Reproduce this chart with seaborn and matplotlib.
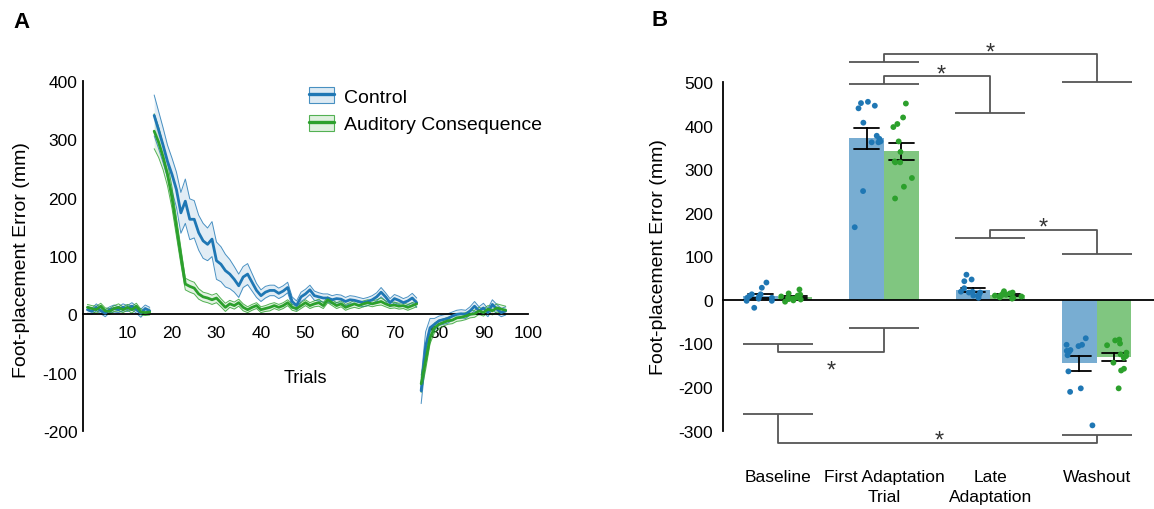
import numpy as np
import pandas as pd
import matplotlib
matplotlib.use('Agg')
import matplotlib.pyplot as plt
import seaborn as sns
from matplotlib.patches import Patch
from matplotlib.lines import Line2D
from matplotlib.legend_handler import HandlerTuple
from matplotlib.colors import to_rgba

sns.set_theme(style='white')
plt.rcParams['font.family'] = ['Liberation Sans', 'DejaVu Sans']
plt.rcParams['axes.unicode_minus'] = False
plt.rcParams['text.color'] = 'black'
plt.rcParams['axes.labelcolor'] = 'black'

groups = ['Control', 'Auditory Consequence']
pal = {'Control': '#1f77b4', 'Auditory Consequence': '#2ca02c'}

#%%
# Panel A: trial-by-trial mean and SE
base_trials = list(range(1, 16))
adapt_trials = list(range(16, 76))
wash_trials = list(range(76, 96))

ctrl_base = [8, 5, 12, 6, 2, 8, 10, 8, 12, 10, 14, 8, 2, 10, 6]
ctrl_base_se = [6, 5, 6, 5, 6, 5, 6, 5, 6, 5, 6, 6, 7, 6, 6]
audi_base = [12, 10, 8, 14, 6, 5, 10, 12, 8, 12, 8, 14, 4, 3, 4]
audi_base_se = [5, 5, 6, 5, 5, 5, 5, 6, 5, 5, 6, 5, 5, 5, 5]

ctrl_adapt = [341, 316, 290, 262, 240, 214, 174, 194, 163, 163,
              140, 126, 120, 129, 92, 86, 75, 69, 60, 49,
              64, 69, 55, 41, 32, 38, 41, 41, 36, 40,
              46, 22, 15, 30, 35, 42, 32, 30, 28, 28,
              25, 27, 26, 22, 25, 24, 22, 20, 22, 25,
              30, 38, 30, 20, 27, 24, 20, 23, 28, 20]
ctrl_adapt_se = [35, 32, 30, 28, 28, 30, 35, 38, 35, 32,
                 30, 30, 28, 30, 32, 30, 28, 25, 22, 20,
                 18, 18, 15, 12, 10, 10, 9, 9, 9, 9,
                 9, 8, 8, 8, 8, 8, 8, 7, 7, 7,
                 7, 7, 7, 7, 7, 7, 7, 7, 7, 7,
                 7, 8, 7, 7, 7, 7, 7, 7, 8, 8]
audi_adapt = [314, 295, 270, 240, 200, 150, 100, 52, 48, 45,
              35, 30, 28, 25, 28, 20, 12, 18, 15, 20,
              12, 8, 12, 15, 8, 10, 12, 15, 12, 15,
              20, 12, 10, 15, 20, 15, 18, 20, 15, 25,
              20, 15, 18, 12, 15, 18, 15, 18, 20, 18,
              20, 22, 18, 15, 16, 14, 15, 12, 15, 18]
audi_adapt_se = [30, 26, 22, 20, 18, 16, 14, 10, 10, 10,
                 9, 8, 8, 8, 8, 7, 7, 6, 6, 6,
                 6, 5, 5, 5, 5, 5, 6, 5, 5, 5,
                 5, 5, 5, 5, 5, 5, 5, 6, 5, 5,
                 5, 5, 5, 5, 5, 6, 5, 5, 5, 5,
                 5, 6, 5, 5, 5, 5, 5, 5, 5, 5]

ctrl_wash = [-131, -55, -23, -17, -11, -9, -7, -3, 0, 1,
             0, 6, 14, 6, 11, 3, 17, 9, 3, 6]
ctrl_wash_se = [22, 25, 16, 10, 8, 8, 8, 7, 7, 7,
                7, 7, 8, 7, 8, 7, 8, 8, 7, 7]
audi_wash = [-119, -80, -40, -23, -17, -14, -11, -10, -6, -5,
             -3, 0, 1, 6, 3, 9, 6, 11, 9, 7]
audi_wash_se = [15, 15, 10, 8, 7, 6, 6, 6, 6, 6,
                6, 6, 6, 6, 6, 6, 7, 7, 7, 7]

#%%
# Panel B: per-participant values for each condition
conditions = ['Baseline', 'First Adaptation\nTrial', 'Late\nAdaptation', 'Washout']
ctrl_pts = [
    [28, 40, -18, 13, -2, 5, 9, 13, 5, 3, -2, 8],
    [455, 446, 452, 440, 407, 370, 364, 362, 362, 377, 250, 167],
    [58, 47, 43, 27, 10, 19, 19, 17, 12, 17, 5, 10],
    [-88, -106, -103, -103, -117, -115, -119, -127, -164, -203, -211, -288],
]
audi_pts = [
    [24, 15, 12, 10, 8, 6, 5, 3, 2, 1, -1, -4],
    [451, 419, 404, 397, 364, 340, 318, 316, 316, 280, 260, 233],
    [20, 17, 15, 15, 12, 12, 10, 10, 8, 6, 5, 3],
    [-91, -93, -100, -104, -121, -133, -125, -144, -158, -162, -203, -129],
]
# significance brackets: (group 1, its line, group 2, its line, join level, star x, star y)
sig = [
    (1, 546, 3, 501, 565, 2.0, 582),
    (1, 496, 2, 429, 514, 1.54, 532),
    (2, 142, 3, 106, 161, 2.5, 180),
    (0, -102, 1, -65, -120, 0.5, -148),
    (0, -263, 3, -310, -328, 1.52, -308),
]

#%%
# Long tables
rows = []
for g, parts in zip(groups, [[(base_trials, ctrl_base, ctrl_base_se), (adapt_trials, ctrl_adapt, ctrl_adapt_se), (wash_trials, ctrl_wash, ctrl_wash_se)],
                             [(base_trials, audi_base, audi_base_se), (adapt_trials, audi_adapt, audi_adapt_se), (wash_trials, audi_wash, audi_wash_se)]]):
    for ph, (t, m, s) in enumerate(parts):
        rows.append(pd.DataFrame({'trial': t, 'mean': m, 'se': s, 'group': g, 'phase': ph}))
dfa = pd.concat(rows, ignore_index=True)

rows = []
for g, pts in zip(groups, [ctrl_pts, audi_pts]):
    for i, vals in enumerate(pts):
        rows.append(pd.DataFrame({'cond': i, 'value': vals, 'group': g}))
dfb = pd.concat(rows, ignore_index=True)

fig = plt.figure(figsize=(11.54, 5.10), dpi=100)

#%%
# Panel A
ax = fig.add_axes([0.0719, 0.1529, 0.3856, 0.6863])
for (g, ph), sub in dfa.groupby(['group', 'phase'], sort=False):
    lo = sub['mean'] - sub['se']
    hi = sub['mean'] + sub['se']
    ax.fill_between(sub['trial'], lo, hi, color=pal[g], alpha=0.13, lw=0, zorder=1)
    ax.plot(sub['trial'], lo, color=pal[g], lw=0.7, alpha=0.8, zorder=2)
    ax.plot(sub['trial'], hi, color=pal[g], lw=0.7, alpha=0.8, zorder=2)
sns.lineplot(data=dfa, x='trial', y='mean', hue='group', units='phase', estimator=None,
             palette=pal, hue_order=groups, lw=2, legend=False, ax=ax, zorder=3)
ax.set_xlim(0, 100)
ax.set_ylim(-200, 400)
ax.spines['top'].set_visible(False)
ax.spines['right'].set_visible(False)
ax.spines['bottom'].set_position(('data', 0))
for sp in ['left', 'bottom']:
    ax.spines[sp].set_color('black')
    ax.spines[sp].set_linewidth(1.3)
ax.spines['left'].set_bounds(-200, 400)
ax.set_xticks(range(10, 101, 10))
ax.set_yticks(range(-200, 401, 100))
ax.tick_params(axis='both', direction='in', length=4, width=1.3, labelsize=12.5, colors='black')
ax.tick_params(axis='x', pad=8)
ax.tick_params(axis='y', pad=4)
ax.set_xlabel('Trials', fontsize=13)
ax.xaxis.set_label_coords(0.499, 0.177)
ax.set_ylabel('Foot-placement Error (mm)', fontsize=14)
ax.yaxis.set_label_coords(-0.12, 0.49)

handles = [(Patch(facecolor=to_rgba(pal[g], 0.15), edgecolor=to_rgba(pal[g], 0.8), lw=0.8),
            Line2D([], [], color=pal[g], lw=2.4)) for g in groups]
ax.legend(handles, groups, handler_map={tuple: HandlerTuple(ndivide=1, pad=0)}, frameon=False,
          loc='upper left', bbox_to_anchor=(0.49, 1.005), fontsize=14, handlelength=1.3,
          handleheight=0.9, handletextpad=0.5, labelspacing=0.45, borderaxespad=0,
          labelcolor='black')

#%%
# Panel B
bx = fig.add_axes([0.6265, 0.1153, 0.3735, 0.8155])
sns.barplot(data=dfb, x='cond', y='value', hue='group', hue_order=groups, palette=pal,
            native_scale=True, width=0.654, errorbar='se', capsize=0.46, saturation=1,
            alpha=0.6, linewidth=0, err_kws={'color': 'black', 'linewidth': 1.3},
            legend=False, ax=bx)
half = 0.654 / 4
dfb['pos'] = dfb['cond'] + np.where(dfb['group'] == groups[0], -half, half)
np.random.seed(3)
sns.stripplot(data=dfb, x='pos', y='value', hue='group', hue_order=groups, palette=pal,
              native_scale=True, jitter=0.42, size=4.2, linewidth=0, legend=False, ax=bx)

line_kw = dict(color='#555555', lw=1.3, solid_capstyle='butt', clip_on=False)
for g1, y1, g2, y2, yj, sx, sy in sig:
    for g, y in [(g1, y1), (g2, y2)]:
        bx.plot([g - 0.33, g + 0.33], [y, y], **line_kw)
    bx.plot([g1, g1, g2, g2], [y1, yj, yj, y2], **line_kw)
    bx.text(sx, sy - 28, '*', ha='center', va='baseline', fontsize=17, color='#333333')

bx.set_xlim(-0.515, 3.54)
bx.set_ylim(-345, 610)
bx.spines['top'].set_visible(False)
bx.spines['right'].set_visible(False)
bx.spines['bottom'].set_position(('data', 0))
for sp in ['left', 'bottom']:
    bx.spines[sp].set_color('black')
    bx.spines[sp].set_linewidth(1.3)
bx.spines['left'].set_bounds(-300, 500)
bx.set_yticks(range(-300, 501, 100))
bx.set_xticks(np.arange(len(conditions) - 1) + 0.5)
bx.set_xticklabels([])
bx.tick_params(axis='x', direction='inout', length=8, width=1.3, colors='black')
bx.tick_params(axis='y', direction='out', length=4, width=1.3, pad=3, labelsize=12.5, colors='black')
bx.set_xlabel('')
bx.set_ylabel('Foot-placement Error (mm)', fontsize=14)
bx.yaxis.set_label_coords(-0.13, 0.466)
for i, lab in enumerate(conditions):
    bx.text(i, -388, lab, ha='center', va='top', fontsize=12.5, linespacing=1.45)

fig.text(21 / 1154, 1 - 22 / 510, 'A', ha='center', va='center', fontsize=16, weight='bold')
fig.text(660 / 1154, 1 - 21 / 510, 'B', ha='center', va='center', fontsize=16, weight='bold')

fig.savefig('out.png', dpi=100)
